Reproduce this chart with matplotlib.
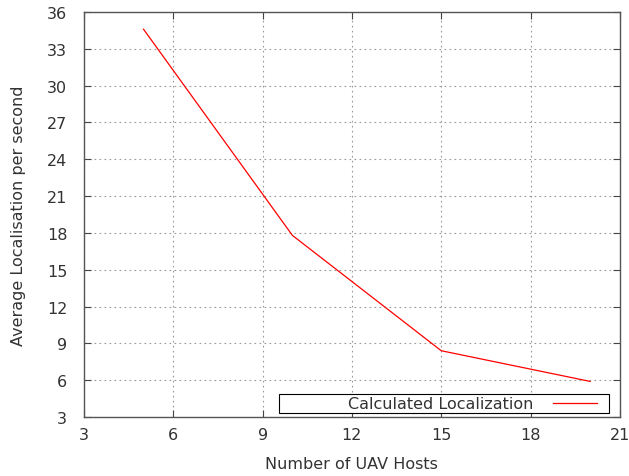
import matplotlib
matplotlib.use("Agg")
import matplotlib.pyplot as plt
from matplotlib.patches import Rectangle
from matplotlib.lines import Line2D

hosts = [5, 10, 15, 20]
loc_rate = [34.6, 17.8, 8.4, 5.9]
series_label = "Calculated Localization"

plt.rcParams['font.family'] = ['DejaVu Sans']
plt.rcParams['font.size'] = 11.5

fig = plt.figure(figsize=(6.29, 4.77), dpi=100)
ax = fig.add_axes([0.1335, 0.1237, 0.852, 0.849])

ax.plot(hosts, loc_rate, color='red', lw=0.9)

ax.set_xlim(3, 21)
ax.set_ylim(3, 36)
ax.set_xticks(range(3, 22, 3))
ax.set_yticks(range(3, 37, 3))
ax.tick_params(direction='in', top=True, right=True, length=5, width=0.8,
               colors='#444444', labelcolor='#333333')
ax.tick_params(axis='x', pad=7)
ax.tick_params(axis='y', pad=12)
ax.grid(True, color='#999999', linestyle=(0, (1.5, 3)), lw=0.8)
for s in ax.spines.values():
    s.set_color('#555555')
    s.set_linewidth(1.0)

ax.set_xlabel("Number of UAV Hosts", color='#333333', labelpad=10)
ax.set_ylabel("Average Localisation per second", color='#333333', labelpad=15)

# gnuplot-style key: wide box, text then line sample
ax.add_patch(Rectangle((0.364, 0.01), 0.615, 0.047, transform=ax.transAxes,
                       fill=True, facecolor='white', edgecolor='black', lw=0.8, zorder=5))
ax.text(0.838, 0.034, series_label, transform=ax.transAxes, ha='right', va='center',
        color='#333333', zorder=6)
ax.add_line(Line2D([0.875, 0.957], [0.034, 0.034], transform=ax.transAxes,
                   color='red', lw=0.9, zorder=6))

fig.savefig("out.png", dpi=100)
